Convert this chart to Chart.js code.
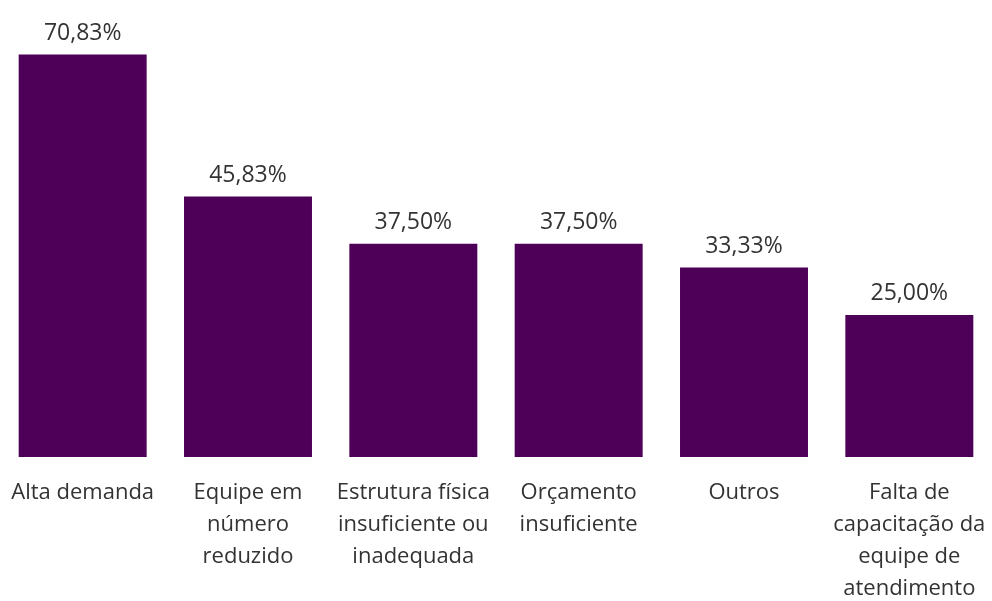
<!DOCTYPE html>
<html lang="pt-BR">
<head>
<meta charset="utf-8">
<title>Dificuldades</title>
<script src="https://cdn.jsdelivr.net/npm/chart.js@4/dist/chart.umd.min.js"></script>
<style>
  html, body { margin: 0; padding: 0; background: #fff; }
  #wrap { width: 992px; height: 601px; position: relative; }
</style>
</head>
<body>
<div id="wrap"><canvas id="chart"></canvas></div>
<script>
const categories = [
  ['Alta demanda'],
  ['Equipe em', 'número', 'reduzido'],
  ['Estrutura física', 'insuficiente ou', 'inadequada'],
  ['Orçamento', 'insuficiente'],
  ['Outros'],
  ['Falta de', 'capacitação da', 'equipe de', 'atendimento']
];
const percentages = [70.83, 45.83, 37.50, 37.50, 33.33, 25.00];

const barColor = '#4e0058';
const textColor = '#333333';
const fontFamily = "'Open Sans', 'Noto Sans', sans-serif";

const formatPercent = (value) => value.toFixed(2).replace('.', ',') + '%';

// value labels above each bar
const valueLabels = {
  id: 'valueLabels',
  afterDatasetsDraw(chart) {
    const ctx = chart.ctx;
    const meta = chart.getDatasetMeta(0);
    ctx.save();
    ctx.font = '23px ' + fontFamily;
    ctx.fillStyle = textColor;
    ctx.textAlign = 'center';
    ctx.textBaseline = 'middle';
    meta.data.forEach((bar, i) => {
      ctx.fillText(formatPercent(percentages[i]), bar.x, bar.y - 21);
    });
    ctx.restore();
  }
};

new Chart(document.getElementById('chart'), {
  type: 'bar',
  data: {
    labels: categories,
    datasets: [{
      data: percentages,
      backgroundColor: barColor,
      borderWidth: 0,
      categoryPercentage: 1,
      barPercentage: 0.774
    }]
  },
  options: {
    responsive: true,
    maintainAspectRatio: false,
    animation: false,
    layout: { padding: 0 },
    plugins: {
      legend: { display: false },
      tooltip: { enabled: false }
    },
    scales: {
      x: {
        grid: { display: false, drawTicks: false },
        border: { display: false },
        afterFit(scale) {
          // keep the plot area edge to edge; labels may spill into the margin
          scale.height = 144;
          scale.paddingLeft = 0;
          scale.paddingRight = 0;
        },
        ticks: {
          color: textColor,
          font: { family: fontFamily, size: 22, lineHeight: 1.45 },
          padding: 20,
          maxRotation: 0,
          minRotation: 0,
          autoSkip: false
        }
      },
      y: {
        display: false,
        min: 0,
        max: 80.4
      }
    }
  },
  plugins: [valueLabels]
});
</script>
</body>
</html>
